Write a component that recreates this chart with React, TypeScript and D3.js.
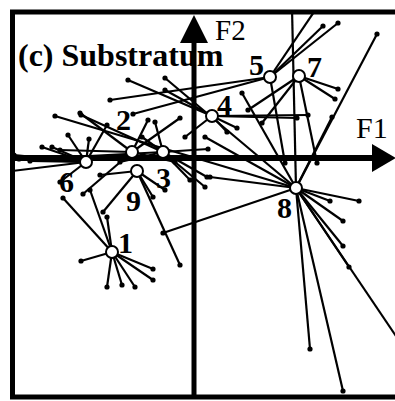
import React from 'react';
import * as d3 from 'd3';

// centroids of the nine substratum groups (F1, F2)
const groups = ['1', '2', '3', '4', '5', '6', '7', '8', '9'];
const centroidF1 = [-0.82, -0.62, -0.31, 0.18, 0.76, -1.08, 1.05, 1.02, -0.57];
const centroidF2 = [-0.94, 0.06, 0.06, 0.42, 0.81, -0.04, 0.82, -0.30, -0.13];

// sample scores for every group, [F1, F2]
const samples1 = [[-1.31, -0.40], [-1.04, -0.32], [-0.87, -0.59], [-1.13, -1.03], [-0.87, -1.29], [-0.72, -1.27], [-0.59, -1.29], [-0.41, -1.22], [-0.41, -1.11]];
const samples2 = [[-1.11, -0.36], [-0.14, 0.40], [-0.46, 0.38], [-1.14, 0.45], [-1.34, 0.08], [-0.19, -0.04]];
const samples3 = [[-1.13, 0.43], [-0.52, 0.21], [-0.39, 0.36], [0.14, 0.09], [-0.04, -0.22], [0.13, -0.19], [0.11, -0.29], [-0.74, -0.04], [-1.60, -0.01]];
const samples4 = [[1.03, 0.40], [1.14, 0.43], [0.33, 0.26], [0.43, 0.30], [-0.29, 0.68], [-0.66, 0.78], [-0.09, 0.21]];
const samples5 = [[-0.61, 0.44], [-0.84, 0.58], [1.29, 1.32], [1.44, 1.35], [1.24, 1.52], [0.91, -0.05]];
const samples6 = [[-1.80, 0.03], [-1.64, -0.03], [-1.82, -0.13], [-1.52, 0.11], [-1.42, 0.11], [-1.26, 0.23], [-1.05, 0.19], [-0.87, 0.33], [-1.34, -0.24], [-1.75, -0.01]];
const samples7 = [[1.44, 0.69], [1.41, 0.59], [0.68, 0.35], [0.54, 0.48], [1.23, -0.05]];
const samples8 = [[0.98, 1.50], [1.83, 1.24], [1.38, 0.41], [0.48, 0.65], [0.11, 0.21], [-0.29, 0.80], [-1.39, 0.42], [0.16, -0.19], [-0.31, -0.75], [1.16, -1.91], [1.49, -2.33], [2.08, -1.87], [1.65, -0.43], [1.36, -0.43], [1.49, -0.63], [1.49, -0.88], [1.55, -1.09]];
const samples9 = [[-0.91, -0.54], [-0.14, -1.07], [-0.41, -0.39], [-0.29, -0.32], [-0.94, -0.17]];
const samples = [samples1, samples2, samples3, samples4, samples5, samples6, samples7, samples8, samples9];

// label offsets from the centroid (px)
const labelDx = [6, -16, -7, 5, -21, -27, 8, -19, -11];
const labelDy = [1, -22, 36, -1, -2, 30, 1, 30, 40];

const W = 395;
const H = 401;
const font = '"Liberation Serif", "Times New Roman", serif';

const App = () => {
    const x = d3.scaleLinear().domain([-1.84, 2.01]).range([10, 395]);
    const y = d3.scaleLinear().domain([1.48, -2.39]).range([10, 397]);
    const x0 = x(0);
    const y0 = y(0);

    return (
        <div>
            <style>{`body{margin:0}`}</style>
            <svg width={W} height={H} style={{ display: 'block', background: 'white' }}>
                <defs>
                    <clipPath id="plot">
                        <rect x={12} y={12} width={390} height={386} />
                    </clipPath>
                </defs>

                {/* spokes from each centroid to its samples */}
                <g clipPath="url(#plot)">
                    {samples.map((pts, gi) =>
                        pts.map((p, i) => (
                            <g key={`${gi}-${i}`}>
                                <line x1={x(centroidF1[gi])} y1={y(centroidF2[gi])} x2={x(p[0])} y2={y(p[1])}
                                    stroke="black" strokeWidth={2.2} />
                                <circle cx={x(p[0])} cy={y(p[1])} r={2.6} fill="black" />
                            </g>
                        ))
                    )}
                </g>

                {/* axes */}
                <line x1={10} x2={374} y1={y0} y2={y0} stroke="black" strokeWidth={6} />
                <path d={`M${372},${y0 - 14}L${396},${y0}L${372},${y0 + 14}Z`} fill="black" />
                <line x1={x0} x2={x0} y1={42} y2={397} stroke="black" strokeWidth={5} />
                <path d={`M${x0 - 14},${43}L${x0},${15}L${x0 + 14},${43}Z`} fill="black" />

                {/* frame */}
                <rect x={12.5} y={12} width={390} height={385} fill="none" stroke="black" strokeWidth={5} />

                {/* centroids */}
                {groups.map((g, gi) => (
                    <circle key={g} cx={x(centroidF1[gi])} cy={y(centroidF2[gi])} r={6}
                        fill="white" stroke="black" strokeWidth={2} />
                ))}
                {groups.map((g, gi) => (
                    <text key={`l${g}`} x={x(centroidF1[gi]) + labelDx[gi]} y={y(centroidF2[gi]) + labelDy[gi]}
                        fontFamily={font} fontWeight="bold" fontSize={30}>{g}</text>
                ))}

                <text x={18} y={66} fontFamily={font} fontWeight="bold" fontSize={32}>(c) Substratum</text>
                <text x={215} y={40} fontFamily={font} fontSize={29}>F2</text>
                <text x={356} y={138} fontFamily={font} fontSize={30}>F1</text>
            </svg>
        </div>
    );
};

export default App;
